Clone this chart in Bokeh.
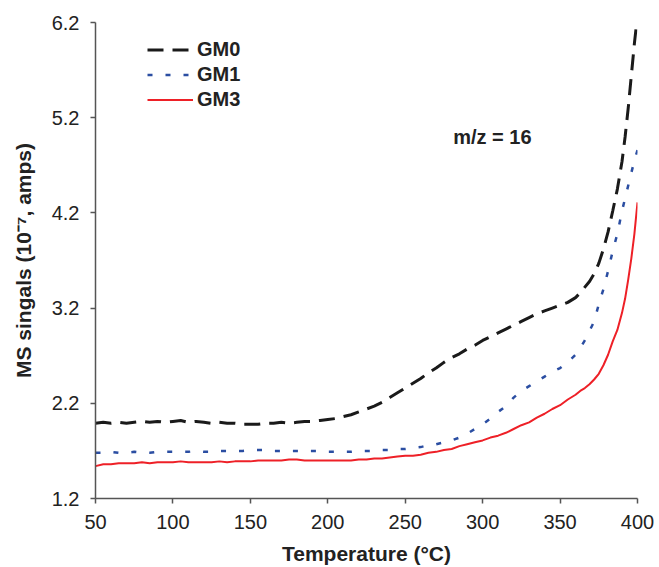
from bokeh.plotting import figure
from bokeh.models import Range1d, FixedTicker, Legend, LegendItem, Label
from bokeh.embed import file_html
from bokeh.resources import INLINE

# ---- data ----
t_gm0 = [50, 55, 60, 65, 70, 75, 80, 85, 90, 95, 100, 105, 110, 115, 120, 125, 130, 135, 140, 145,
         150, 155, 160, 165, 170, 175, 180, 185, 190, 195, 200, 205, 210, 215, 220, 225, 230, 235, 240,
         245, 250, 255, 260, 265, 270, 275, 280, 285, 290, 295, 300, 305, 310, 315, 320, 325, 330, 335,
         340, 345, 350, 355, 360, 363, 366, 369, 372, 375, 378, 381, 384, 387, 390, 392, 394, 396, 398, 399.5]
gm0 = [1.99, 2.00, 1.99, 2.00, 1.99, 2.00, 2.01, 2.00, 2.01, 2.00, 2.01, 2.02, 2.00, 2.01, 2.00, 1.99,
       2.00, 1.99, 1.99, 1.98, 1.98, 1.98, 1.99, 1.99, 2.00, 1.99, 2.00, 2.01, 2.01, 2.02, 2.03, 2.04,
       2.06, 2.08, 2.11, 2.14, 2.17, 2.21, 2.26, 2.31, 2.36, 2.41, 2.46, 2.52, 2.57, 2.63, 2.68, 2.72,
       2.77, 2.81, 2.86, 2.90, 2.94, 2.98, 3.02, 3.06, 3.10, 3.14, 3.17, 3.20, 3.23, 3.26, 3.31, 3.36,
       3.42, 3.48, 3.56, 3.67, 3.82, 4.00, 4.22, 4.45, 4.74, 5.00, 5.30, 5.64, 5.98, 6.20]

t_gm1 = [50, 55, 60, 65, 70, 75, 80, 85, 90, 95, 100, 105, 110, 115, 120, 125, 130, 135, 140, 145,
         150, 155, 160, 165, 170, 175, 180, 185, 190, 195, 200, 205, 210, 215, 220, 225, 230, 235, 240,
         245, 250, 255, 260, 265, 270, 275, 280, 285, 290, 295, 300, 305, 310, 315, 320, 325, 330, 335,
         340, 345, 350, 355, 360, 363, 366, 369, 372, 375, 378, 381, 384, 387, 390, 393, 396, 398, 400]
gm1 = [1.68, 1.68, 1.69, 1.68, 1.68, 1.69, 1.68, 1.68, 1.69, 1.69, 1.69, 1.69, 1.69, 1.70, 1.69, 1.69,
       1.70, 1.70, 1.70, 1.70, 1.71, 1.71, 1.71, 1.70, 1.70, 1.70, 1.70, 1.70, 1.70, 1.70, 1.69, 1.69,
       1.69, 1.69, 1.70, 1.70, 1.70, 1.71, 1.71, 1.72, 1.72, 1.73, 1.74, 1.76, 1.77, 1.79, 1.81, 1.84,
       1.88, 1.93, 1.98, 2.04, 2.11, 2.17, 2.26, 2.33, 2.38, 2.43, 2.48, 2.53, 2.57, 2.63, 2.71, 2.78,
       2.86, 2.96, 3.06, 3.24, 3.40, 3.59, 3.80, 3.98, 4.22, 4.42, 4.62, 4.75, 4.86]

t_gm3 = [50, 55, 60, 65, 70, 75, 80, 85, 90, 95, 100, 105, 110, 115, 120, 125, 130, 135, 140, 145,
         150, 155, 160, 165, 170, 175, 180, 185, 190, 195, 200, 205, 210, 215, 220, 225, 230, 235, 240,
         245, 250, 255, 260, 265, 270, 275, 280, 285, 290, 295, 300, 305, 310, 315, 320, 325, 330, 335,
         340, 345, 350, 355, 360, 363, 366, 369, 372, 375, 378, 381, 384, 387, 390, 392, 394, 396, 398, 400]
gm3 = [1.54, 1.56, 1.56, 1.57, 1.57, 1.57, 1.58, 1.57, 1.58, 1.58, 1.58, 1.59, 1.58, 1.58, 1.58, 1.58,
       1.59, 1.58, 1.59, 1.59, 1.59, 1.60, 1.60, 1.60, 1.60, 1.61, 1.61, 1.60, 1.60, 1.60, 1.60, 1.60,
       1.60, 1.60, 1.61, 1.61, 1.62, 1.62, 1.63, 1.64, 1.65, 1.65, 1.66, 1.68, 1.69, 1.71, 1.72, 1.75,
       1.77, 1.79, 1.81, 1.84, 1.86, 1.89, 1.93, 1.97, 2.00, 2.05, 2.09, 2.14, 2.18, 2.24, 2.29, 2.33,
       2.36, 2.40, 2.45, 2.51, 2.60, 2.71, 2.85, 2.97, 3.15, 3.30, 3.50, 3.72, 3.98, 4.31]

series_names = ["GM0", "GM1", "GM3"]
x_ticks = [50, 100, 150, 200, 250, 300, 350, 400]
x_tick_labels = ["50", "100", "150", "200", "250", "300", "350", "400"]
y_ticks = [1.2, 2.2, 3.2, 4.2, 5.2, 6.2]
y_tick_labels = ["1.2", "2.2", "3.2", "4.2", "5.2", "6.2"]
annotation_text = "m/z = 16"

FONT = "Liberation Sans"

p = figure(width=659, height=567, output_backend="svg", toolbar_location=None,
           x_range=Range1d(50, 400), y_range=Range1d(1.2, 6.2),
           min_border_left=95, min_border_right=22, min_border_top=22, min_border_bottom=68)
p.outline_line_color = None
p.xgrid.visible = False
p.ygrid.visible = False
p.background_fill_color = "white"
p.border_fill_color = "white"

for ax in (p.xaxis[0], p.yaxis[0]):
    ax.axis_line_color = "#555555"
    ax.axis_line_width = 1.5
    ax.major_tick_line_color = "#555555"
    ax.major_tick_line_width = 1.5
    ax.major_tick_in = 0
    ax.major_tick_out = 5
    ax.minor_tick_line_color = None
    ax.major_label_text_font = FONT
    ax.major_label_text_font_size = "20px"
    ax.major_label_text_color = "#222222"
    ax.axis_label_text_font = FONT
    ax.axis_label_text_font_size = "21px"
    ax.axis_label_text_font_style = "bold"
    ax.axis_label_text_color = "#222222"

p.xaxis.ticker = FixedTicker(ticks=x_ticks)
p.xaxis.major_label_overrides = dict(zip(x_ticks, x_tick_labels))
p.yaxis.ticker = FixedTicker(ticks=y_ticks)
p.yaxis.major_label_overrides = dict(zip(y_ticks, y_tick_labels))
p.xaxis.axis_label = "Temperature (°C)"
p.yaxis.axis_label = "MS singals (10⁻⁷, amps)"
p.xaxis.major_label_standoff = 11
p.yaxis.major_label_standoff = 11
p.xaxis.axis_label_standoff = 10
p.yaxis.axis_label_standoff = 14

r0 = p.line(t_gm0, gm0, line_color="#1a1a1a", line_width=3, line_dash="16 9")
r1 = p.line(t_gm1, gm1, line_color="#2b4ea2", line_width=2.5, line_dash="5 13")
r3 = p.line(t_gm3, gm3, line_color="#ee2027", line_width=2)

legend = Legend(items=[LegendItem(label=series_names[0], renderers=[r0]),
                       LegendItem(label=series_names[1], renderers=[r1]),
                       LegendItem(label=series_names[2], renderers=[r3])],
                location=(52, 387), border_line_color=None, background_fill_alpha=0,
                padding=0, margin=0, spacing=2, glyph_width=46, glyph_height=23,
                label_height=23, label_standoff=4,
                label_text_font=FONT, label_text_font_size="20px", label_text_font_style="bold",
                label_text_color="#222222")
p.add_layout(legend)

p.add_layout(Label(x=281, y=5.0, text=annotation_text, text_font=FONT, text_font_size="20px",
                   text_font_style="bold", text_color="#222222", text_baseline="middle",
                   text_align="left"))

open("out.html", "w").write(file_html(p, INLINE))
